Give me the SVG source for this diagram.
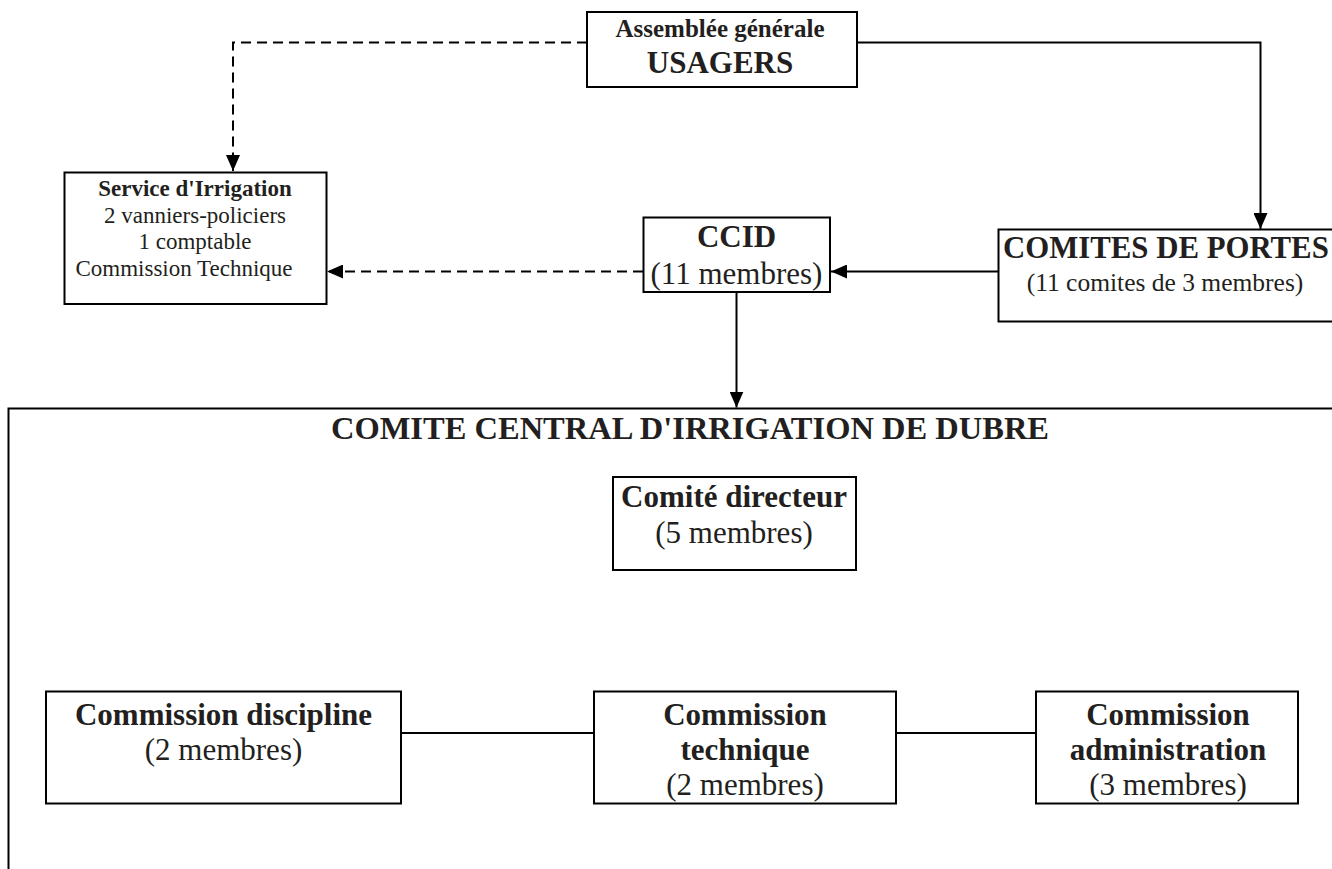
<svg xmlns="http://www.w3.org/2000/svg" width="1332" height="869" viewBox="0 0 1332 869">
  <defs>
    <style>
      .box { fill: #ffffff; stroke: #000000; stroke-width: 2; }
      .edge { fill: none; stroke: #000000; stroke-width: 2; }
      .dash { fill: none; stroke: #000000; stroke-width: 2; stroke-dasharray: 10 6; }
      text { font-family: "Liberation Serif", "Times New Roman", serif; fill: #231f20; text-anchor: middle; }
      .b { font-weight: bold; }
      .big { font-size: 31px; }
      .small { font-size: 23px; }
    </style>
    <marker id="arrow" markerUnits="userSpaceOnUse" markerWidth="16" markerHeight="14" refX="16" refY="7" orient="auto">
      <path d="M0,0 L16,7 L0,14 z" fill="#000000"/>
    </marker>
  </defs>
  <rect width="1332" height="869" fill="#ffffff"/>

  <!-- connectors -->
  <g id="connectors">
    <polyline class="dash" points="587,42.5 233,42.5 233,171" marker-end="url(#arrow)"/>
    <polyline class="edge" points="857,42.5 1260.5,42.5 1260.5,229" marker-end="url(#arrow)"/>
    <line class="edge" x1="998" y1="271.5" x2="831" y2="271.5" marker-end="url(#arrow)"/>
    <line class="dash" x1="643" y1="271.5" x2="327" y2="271.5" marker-end="url(#arrow)"/>
    <line class="edge" x1="736.5" y1="292" x2="736.5" y2="407.5" marker-end="url(#arrow)"/>
    <line class="edge" x1="401" y1="733" x2="594" y2="733"/>
    <line class="edge" x1="896" y1="733" x2="1036" y2="733"/>
  </g>

  <!-- general assembly -->
  <g id="assemblee">
    <rect class="box" x="587" y="12" width="270" height="75"/>
    <text class="b" x="720" y="37" font-size="25">Assemblée générale</text>
    <text class="b" x="720" y="73" font-size="31">USAGERS</text>
  </g>

  <!-- irrigation service -->
  <g id="service">
    <rect class="box" x="64.5" y="172.5" width="262" height="131.5"/>
    <text class="b small" x="195" y="196">Service d'Irrigation</text>
    <text class="small" x="195" y="223">2 vanniers-policiers</text>
    <text class="small" x="195" y="249">1 comptable</text>
    <text class="small" x="184" y="276">Commission Technique</text>
  </g>

  <!-- CCID -->
  <g id="ccid">
    <rect class="box" x="643.5" y="217.5" width="186.5" height="74.5"/>
    <text class="b big" x="736.5" y="247">CCID</text>
    <text class="big" x="736.5" y="284">(11 membres)</text>
  </g>

  <!-- gate committees -->
  <g id="comites-portes">
    <path class="edge" d="M1345,229.5 H998.5 V321.5 H1345"/>
    <text class="b" x="1003" y="258" font-size="30.8" style="text-anchor:start">COMITES DE PORTES</text>
    <text x="1165" y="291" font-size="25.5">(11 comites de 3 membres)</text>
  </g>

  <!-- central committee frame -->
  <g id="comite-central">
    <path class="edge" d="M1345,408.5 H8.5 V875"/>
    <text class="b" x="690" y="439" font-size="32.5">COMITE CENTRAL D'IRRIGATION DE DUBRE</text>
  </g>

  <g id="comite-directeur">
    <rect class="box" x="613" y="477" width="243" height="93"/>
    <text class="b big" x="734" y="507">Comité directeur</text>
    <text class="big" x="734" y="543">(5 membres)</text>
  </g>

  <g id="commission-discipline">
    <rect class="box" x="46" y="691.5" width="355" height="112"/>
    <text class="b big" x="223.5" y="725">Commission discipline</text>
    <text class="big" x="223.5" y="760">(2 membres)</text>
  </g>

  <g id="commission-technique">
    <rect class="box" x="594" y="691.5" width="302" height="112"/>
    <text class="b big" x="745" y="725">Commission</text>
    <text class="b big" x="745" y="760">technique</text>
    <text class="big" x="745" y="795">(2 membres)</text>
  </g>

  <g id="commission-administration">
    <rect class="box" x="1036" y="691.5" width="262" height="112"/>
    <text class="b big" x="1168" y="725">Commission</text>
    <text class="b big" x="1168" y="760">administration</text>
    <text class="big" x="1168" y="795">(3 membres)</text>
  </g>
</svg>
